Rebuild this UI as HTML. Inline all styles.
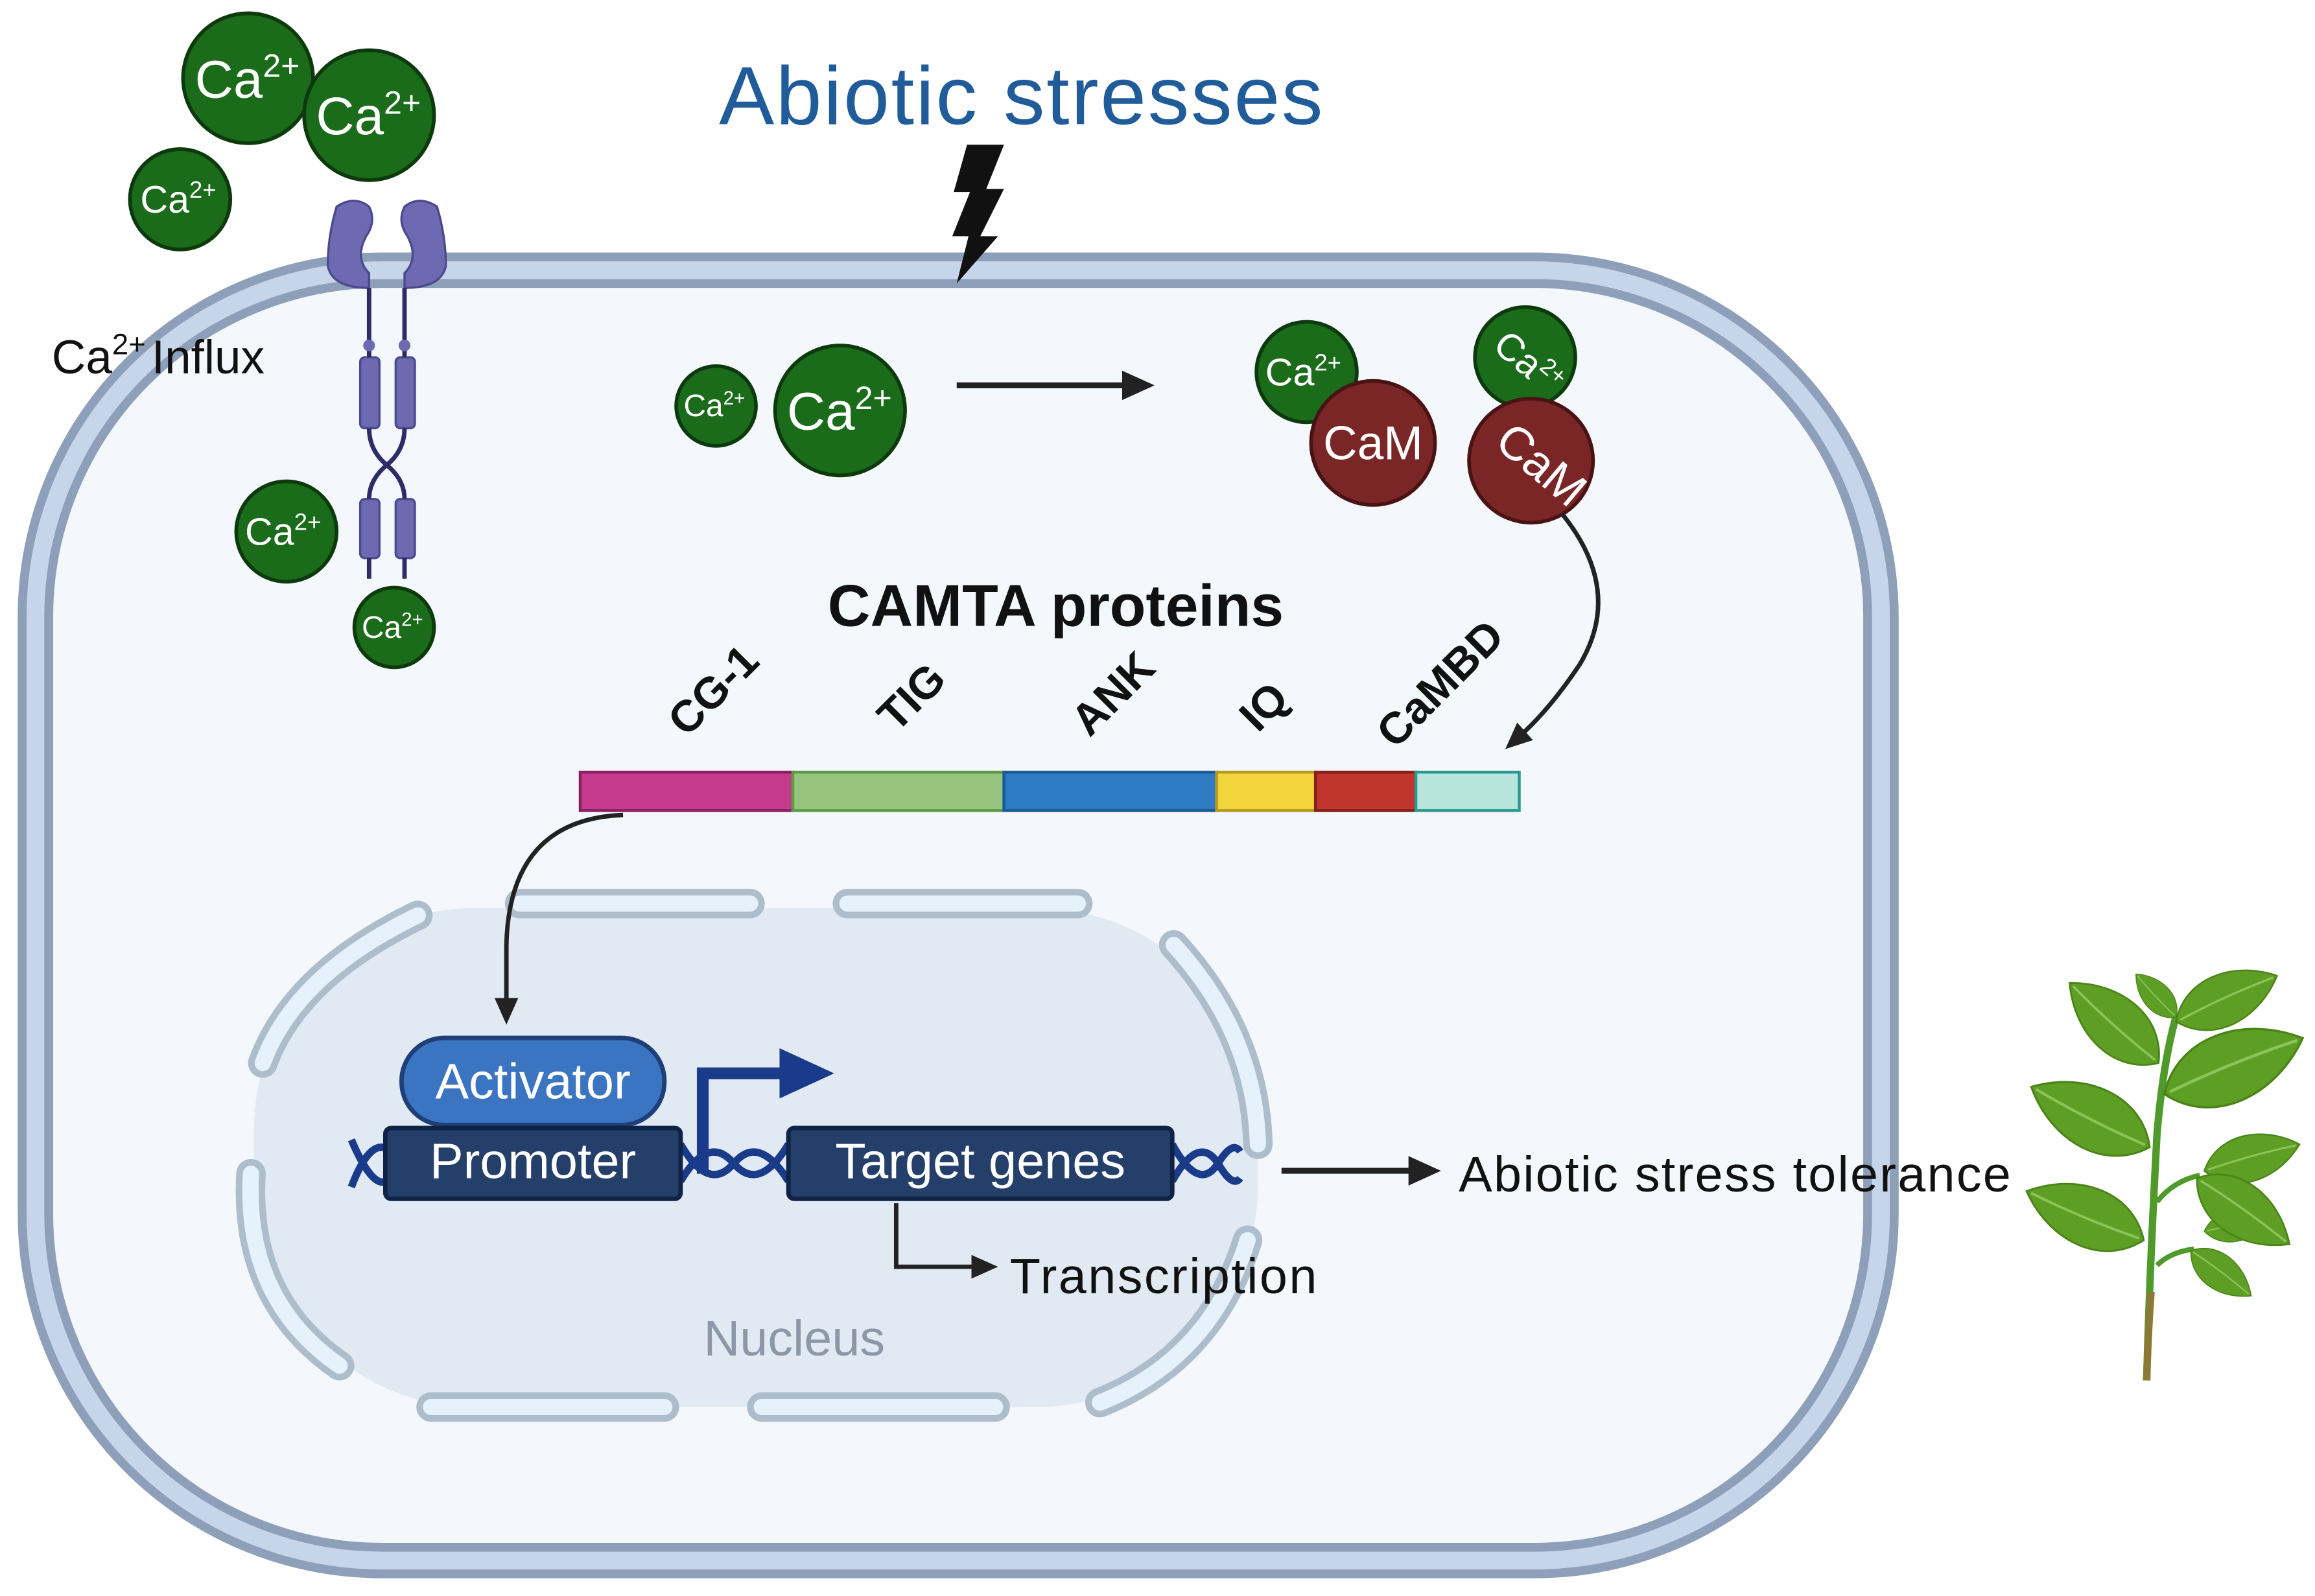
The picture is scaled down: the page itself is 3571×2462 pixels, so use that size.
<!DOCTYPE html>
<html><head><meta charset="utf-8"><style>
html,body{margin:0;padding:0;background:#fff;}
svg{display:block;}
text{font-family:"Liberation Sans",sans-serif;}
</style></head><body>
<svg width="3571" height="2462" viewBox="0 0 1568 1081" preserveAspectRatio="none" xmlns="http://www.w3.org/2000/svg">
<defs>
<marker id="ah" markerWidth="22" markerHeight="20" refX="4" refY="10" orient="auto" markerUnits="userSpaceOnUse">
<path d="M0,0 L22,10 L0,20 Z" fill="#222"/></marker>
<marker id="ah2" markerWidth="18" markerHeight="16" refX="4" refY="8" orient="auto" markerUnits="userSpaceOnUse">
<path d="M0,0 L18,8 L0,16 Z" fill="#222"/></marker>
<g id="leaf"><path d="M0,0 C22,-32 68,-30 100,0 C68,30 22,32 0,0 Z" fill="#5e9e25" stroke="#4a8418" stroke-width="1.5"/><path d="M4,0 Q50,-3 96,0" stroke="#8cc45a" stroke-width="2" fill="none"/></g>
</defs>
<rect width="1568" height="1081" fill="#fff"/>
<!-- cell -->
<rect x="24" y="183" width="1250" height="874" rx="235" fill="#f4f8fc" stroke="#8e9fb9" stroke-width="24"/>
<rect x="24" y="183" width="1250" height="874" rx="235" fill="none" stroke="#c7d5ea" stroke-width="12"/>
<!-- title -->
<text x="487" y="84" font-size="56" fill="#1f5c99" textLength="409">Abiotic stresses</text>
<path d="M655,98 L680,98 L668,128 L680,128 L664,160 L676,160 L648,192 L656,160 L645,160 L657,130 L646,130 Z" fill="#111"/>
<!-- receptor -->
<g fill="#6d6ab2" stroke="#4c4a8e" stroke-width="1.5">
<path d="M228,140 Q222,160 222,180 Q225,195 250,195 L250,185 Q240,175 248,160 Q255,150 250,140 Q240,132 228,140 Z"/>
<path d="M296,140 Q302,160 302,180 Q299,195 274,195 L274,185 Q284,175 276,160 Q269,150 274,140 Q284,132 296,140 Z"/>
<rect x="244" y="242" width="13" height="48" rx="3"/>
<rect x="268" y="242" width="13" height="48" rx="3"/>
<rect x="244" y="338" width="13" height="40" rx="3"/>
<rect x="268" y="338" width="13" height="40" rx="3"/>
</g>
<g stroke="#2e2c66" stroke-width="3" fill="none">
<path d="M250,195 V242 M274,195 V242 M250,290 Q250,305 262,315 Q250,325 250,338 M274,290 Q274,305 262,315 Q274,325 274,338 M250,378 V392 M274,378 V392"/>
</g>
<circle cx="250" cy="234" r="4" fill="#6d6ab2"/><circle cx="274" cy="234" r="4" fill="#6d6ab2"/>
<!-- Ca circles -->
<g fill="#1a6b1a" stroke="#0d3a0d" stroke-width="2.5">
<circle cx="168" cy="53" r="44"/><circle cx="250" cy="78" r="44"/><circle cx="122" cy="135" r="34"/>
<circle cx="194" cy="360" r="34"/><circle cx="267" cy="425" r="27"/><circle cx="485" cy="275" r="27"/>
<circle cx="569" cy="278" r="44"/><circle cx="885" cy="252" r="34"/><circle cx="1033" cy="242" r="34"/>
</g>
<g fill="#fff">
<text x="132" y="66" font-size="36">Ca<tspan font-size="22" dy="-14">2+</tspan></text>
<text x="214" y="91" font-size="36">Ca<tspan font-size="22" dy="-14">2+</tspan></text>
<text x="95" y="144" font-size="26">Ca<tspan font-size="16" dy="-10">2+</tspan></text>
<text x="166" y="369" font-size="26">Ca<tspan font-size="16" dy="-10">2+</tspan></text>
<text x="245" y="432" font-size="21">Ca<tspan font-size="13" dy="-8">2+</tspan></text>
<text x="463" y="282" font-size="21">Ca<tspan font-size="13" dy="-8">2+</tspan></text>
<text x="533" y="291" font-size="36">Ca<tspan font-size="22" dy="-14">2+</tspan></text>
<text x="857" y="261" font-size="26">Ca<tspan font-size="16" dy="-10">2+</tspan></text>
<text x="0" y="0" font-size="26" transform="translate(1010,236) rotate(40)">Ca<tspan font-size="16" dy="-10">2+</tspan></text>
</g>
<g fill="#7b2626" stroke="#4a1313" stroke-width="2.5">
<circle cx="930" cy="300" r="42"/><circle cx="1037" cy="312" r="42"/></g>
<text x="930" y="311" font-size="32" fill="#fff" text-anchor="middle">CaM</text>
<text x="0" y="0" font-size="32" fill="#fff" text-anchor="middle" transform="translate(1037,323) rotate(40)">CaM</text>
<text x="35" y="253" font-size="32" fill="#111">Ca<tspan font-size="20" dy="-13">2+</tspan><tspan dy="13" dx="4">Influx</tspan></text>
<!-- arrows -->
<line x1="648" y1="261" x2="764" y2="261" stroke="#222" stroke-width="4" marker-end="url(#ah)"/>
<path d="M1058,348 Q1100,400 1070,450 Q1050,480 1030,498" stroke="#222" stroke-width="3" fill="none" marker-end="url(#ah2)"/>
<!-- CAMTA -->
<text x="715" y="424" font-size="40" font-weight="bold" fill="#111" text-anchor="middle">CAMTA proteins</text>
<g font-size="30" font-weight="bold" fill="#111">
<text transform="translate(465,500) rotate(-45)">CG-1</text>
<text transform="translate(607,497) rotate(-45)">TIG</text>
<text transform="translate(738,500) rotate(-45)">ANK</text>
<text transform="translate(852,497) rotate(-45)">IQ</text>
<text transform="translate(945,508) rotate(-45)">CaMBD</text>
</g>
<g stroke-width="2">
<rect x="393" y="523" width="144" height="26" fill="#c63b8d" stroke="#8a2060"/>
<rect x="537" y="523" width="143" height="26" fill="#96c47f" stroke="#5d9a45"/>
<rect x="680" y="523" width="144" height="26" fill="#2d7bc2" stroke="#1c5a95"/>
<rect x="824" y="523" width="67" height="26" fill="#f2d43b" stroke="#b49a1e"/>
<rect x="891" y="523" width="68" height="26" fill="#c0352d" stroke="#851f19"/>
<rect x="959" y="523" width="70" height="26" fill="#b8e4de" stroke="#2a9a8e"/>
</g>
<!-- nucleus -->
<rect x="172" y="615" width="680" height="338" rx="150" fill="#e1e9f3"/>
<g fill="none" stroke-linecap="round">
<g stroke="#aebdcc" stroke-width="20">
<path d="M352,612 H508 M574,612 H730 M292,953 H450 M516,953 H674"/>
<path d="M283,620 Q200,660 178,720"/><path d="M795,640 Q850,700 852,775"/>
<path d="M170,795 Q165,880 230,925"/><path d="M845,840 Q820,920 745,950"/>
</g>
<g stroke="#e6f2fb" stroke-width="11">
<path d="M352,612 H508 M574,612 H730 M292,953 H450 M516,953 H674"/>
<path d="M283,620 Q200,660 178,720"/><path d="M795,640 Q850,700 852,775"/>
<path d="M170,795 Q165,880 230,925"/><path d="M845,840 Q820,920 745,950"/>
</g>
</g>
<path d="M422,552 Q345,555 343,640 V680" stroke="#222" stroke-width="3" fill="none" marker-end="url(#ah2)"/>
<!-- DNA -->
<g fill="none" stroke="#1a3a8a" stroke-width="5">
<path d="M238,772 Q252,805 262,800 M238,804 Q250,772 262,778"/>
<path d="M461,775 Q480,808 497,788 Q514,768 534,800"/>
<path d="M461,800 Q480,768 497,788 Q514,808 534,775"/>
<path d="M794,775 Q812,808 825,788 Q835,772 840,780 M794,800 Q812,768 825,788 Q835,805 840,798"/>
</g>
<path d="M476,795 V727 H530" stroke="#1a3a8a" stroke-width="8" fill="none"/>
<path d="M528,710 L565,727 L528,744 Z" fill="#1a3a8a"/>
<rect x="272" y="703" width="178" height="59" rx="29" fill="#3b74c1" stroke="#1e3f78" stroke-width="3"/>
<text x="361" y="744" font-size="34" fill="#fff" text-anchor="middle">Activator</text>
<rect x="261" y="764" width="200" height="48" rx="4" fill="#253f6b" stroke="#0f2347" stroke-width="3"/>
<text x="361" y="798" font-size="34" fill="#fff" text-anchor="middle">Promoter</text>
<rect x="534" y="764" width="260" height="48" rx="4" fill="#253f6b" stroke="#0f2347" stroke-width="3"/>
<text x="664" y="798" font-size="34" fill="#fff" text-anchor="middle">Target genes</text>
<path d="M607,815 V858 H662" stroke="#222" stroke-width="3" fill="none" marker-end="url(#ah2)"/>
<text x="684" y="876" font-size="34" fill="#111" textLength="208">Transcription</text>
<text x="538" y="918" font-size="34" fill="#8a98a8" text-anchor="middle">Nucleus</text>
<line x1="868" y1="793" x2="958" y2="793" stroke="#222" stroke-width="4" marker-end="url(#ah)"/>
<text x="988" y="807" font-size="34" fill="#111" textLength="374">Abiotic stress tolerance</text>
<!-- plant -->
<g>
<path d="M1454,935 Q1456,860 1461,768 Q1465,720 1474,688" stroke="#4f9a2a" stroke-width="5" fill="none"/>
<path d="M1454,935 Q1455,900 1457,875" stroke="#8a7a35" stroke-width="5" fill="none"/>
<g stroke="#4f9a2a" stroke-width="3.5" fill="none">
<path d="M1461,814 Q1472,800 1490,796"/><path d="M1461,857 Q1470,848 1486,846"/>
</g>
<use href="#leaf" transform="translate(1462,720) rotate(222) scale(0.81)"/>
<use href="#leaf" transform="translate(1474,689) rotate(227) scale(0.40)"/>
<use href="#leaf" transform="translate(1474,692) rotate(-24.5) scale(0.75)"/>
<use href="#leaf" transform="translate(1466,741) rotate(-22) scale(1.01)"/>
<use href="#leaf" transform="translate(1456,777) rotate(207) scale(0.90)"/>
<use href="#leaf" transform="translate(1493,793) rotate(-15.5) scale(0.67)"/>
<use href="#leaf" transform="translate(1493,834) rotate(-10) scale(0.45)"/>
<use href="#leaf" transform="translate(1488,798) rotate(35.5) scale(0.77)"/>
<use href="#leaf" transform="translate(1452,840) rotate(202.7) scale(0.86)"/>
<use href="#leaf" transform="translate(1484,847) rotate(37) scale(0.51)"/>
</g>
</svg>
</body></html>
